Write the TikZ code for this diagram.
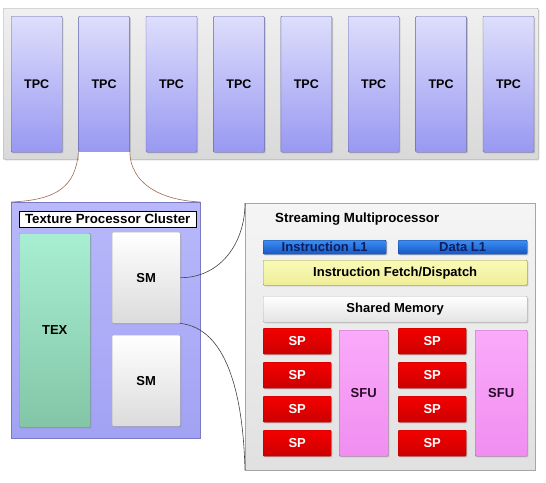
\documentclass[tikz,border=0pt]{standalone}
\usepackage{fontspec}
\setmainfont{Liberation Sans}
\usetikzlibrary{shadows}
\definecolor{tpctop}{HTML}{DEDEFC}
\definecolor{tpcbot}{HTML}{9898F2}
\definecolor{tpcedge}{HTML}{6464AC}
\definecolor{cltop}{HTML}{B8B8FA}
\definecolor{clbot}{HTML}{A2A2F4}
\definecolor{textop}{HTML}{A8EED2}
\definecolor{texbot}{HTML}{82C6A6}
\definecolor{l1top}{HTML}{3C8EF2}
\definecolor{l1bot}{HTML}{1656C6}
\definecolor{l1text}{HTML}{0E1E5C}
\definecolor{fetchtop}{HTML}{FAFAB8}
\definecolor{fetchbot}{HTML}{EEEE98}
\definecolor{sptop}{HTML}{F40000}
\definecolor{spbot}{HTML}{CC0000}
\definecolor{sfutop}{HTML}{FAAAFA}
\definecolor{sfubot}{HTML}{F08EF0}
\definecolor{sfutext}{HTML}{2A0A2A}
\definecolor{zoomline}{HTML}{A06A50}
\begin{document}
\begin{tikzpicture}[x=1pt,y=-1pt,
  blk/.style={draw, anchor=north west, inner sep=0pt, rounded corners=1pt,
    font=\fontsize{13}{15}\selectfont\bfseries,
    drop shadow={shadow xshift=1.2pt, shadow yshift=-1.2pt, opacity=0.35}},
  tpcbox/.style={blk, draw=tpcedge, top color=tpctop, bottom color=tpcbot,
    minimum width=51pt, minimum height=136pt, font=\fontsize{12.5}{14}\selectfont\bfseries},
  smbox/.style={blk, draw=gray!60, top color=white, bottom color=gray!28,
    minimum width=68pt, minimum height=91pt},
  spbox/.style={blk, draw=red!70!black, top color=sptop, bottom color=spbot,
    text=white, minimum width=68pt, minimum height=26pt},
  sfubox/.style={blk, draw=sfubot!70!black, top color=sfutop, bottom color=sfubot,
    text=sfutext, minimum height=126pt},
  barbox/.style={blk, minimum height=25pt},
  link/.style={draw=black!75, line width=0.6pt}]
\useasboundingbox (0,0) rectangle (546,482);

% GPU: a row of eight TPCs
\node[blk, draw=gray!70, top color=gray!12, bottom color=gray!30,
  minimum width=535pt, minimum height=151pt] (gpu) at (3,8) {};
\foreach \i in {1,...,8} {
  \node[tpcbox] (tpc\i) at ({11+67.4*(\i-1)},16) {TPC};
}
% cut the frame below the second TPC
\fill[white] ([xshift=0.2pt]tpc2.south west) rectangle ([xshift=-0.2pt,yshift=-4pt]tpc2.south east |- gpu.south);

% Texture Processor Cluster
\node[blk, draw=tpcbot!80!black, top color=cltop, bottom color=clbot, rounded corners=0pt,
  minimum width=189pt, minimum height=236pt] (cluster) at (11,202) {};
\node[draw, fill=white, anchor=north west, inner sep=0pt, minimum width=177pt, minimum height=16pt,
  font=\fontsize{13.3}{15}\selectfont\bfseries] (cltitle) at (19,211) {Texture Processor Cluster};
\node[blk, draw=texbot!80!black, top color=textop, bottom color=texbot,
  minimum width=71pt, minimum height=194pt] (tex) at (19,233) {TEX};
\node[smbox] (sm1) at (112,232) {SM};
\node[smbox] (sm2) at (112,335) {SM};

% Streaming Multiprocessor
\node[blk, draw=gray!70, top color=gray!8, bottom color=gray!24, rounded corners=0pt,
  minimum width=290pt, minimum height=267pt] (smp) at (245,203) {};
\node[anchor=west, inner sep=0pt, font=\fontsize{13.3}{15}\selectfont\bfseries] (smptitle) at (275,219) {Streaming Multiprocessor};
\node[blk, draw=l1bot!70!black, top color=l1top, bottom color=l1bot, text=l1text,
  minimum width=123pt, minimum height=14pt] (il1) at (263,240) {Instruction L1};
\node[blk, draw=l1bot!70!black, top color=l1top, bottom color=l1bot, text=l1text,
  minimum width=129pt, minimum height=14pt] (dl1) at (398,240) {Data L1};
\node[barbox, draw=fetchbot!60!black, top color=fetchtop, bottom color=fetchbot,
  minimum width=264pt] (fetch) at (263,260) {Instruction Fetch/Dispatch};
\node[barbox, draw=gray!60, top color=white, bottom color=gray!22,
  minimum width=264pt, minimum height=26pt] (shmem) at (263,296) {Shared Memory};
\foreach \r in {1,...,4} {
  \node[spbox] (spa\r) at (263,{328+34*(\r-1)}) {SP};
  \node[spbox] (spb\r) at (398,{328+34*(\r-1)}) {SP};
}
\node[sfubox, minimum width=49pt] (sfu1) at (339,330) {SFU};
\node[sfubox, minimum width=52pt] (sfu2) at (475,330) {SFU};

% zoom connectors
\draw[draw=zoomline, line width=0.6pt] (tpc2.south west) .. controls +(-3,35) and +(45,-2) .. (cluster.north west);
\draw[draw=zoomline, line width=0.6pt] (tpc2.south east) .. controls +(1,30) and +(-42,-2) .. (cluster.north east);
\draw[link] (sm1.east) .. controls +(40,0) and +(0,40) .. (smp.north west);
\draw[link] (sm1.south east) .. controls +(45,5) and +(-2,-80) .. (smp.south west);
\end{tikzpicture}
\end{document}
